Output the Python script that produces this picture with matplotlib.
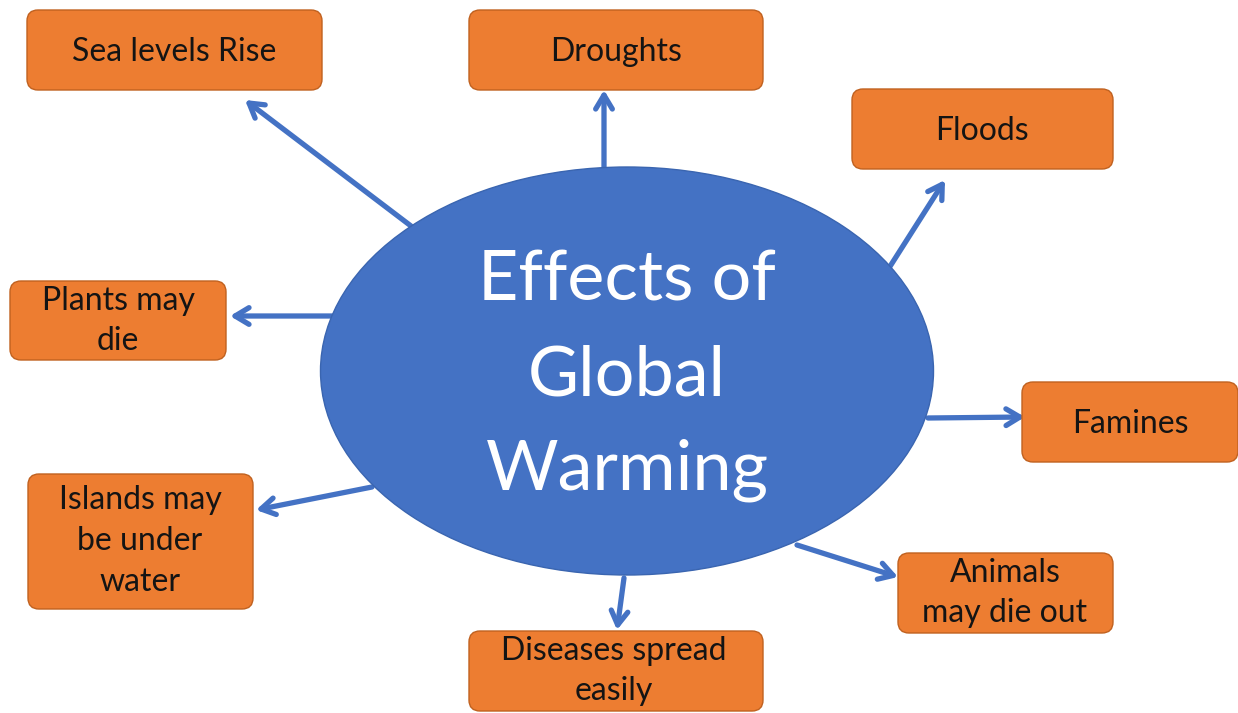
import matplotlib.pyplot as plt
from matplotlib.patches import Ellipse, FancyBboxPatch

# %%
# diagram content
center_text = "Effects of\nGlobal\nWarming"
effects = [
    "Sea levels Rise",
    "Droughts",
    "Floods",
    "Plants may\ndie",
    "Famines",
    "Islands may\nbe under\nwater",
    "Animals\nmay die out",
    "Diseases spread\neasily",
]

# layout in pixel units (x0, y0, x1, y1), y grows downwards
boxes = [
    (27, 10, 322, 90),
    (469, 10, 763, 90),
    (852, 89, 1113, 169),
    (10, 281, 226, 360),
    (1022, 382, 1238, 462),
    (28, 474, 253, 609),
    (898, 553, 1113, 633),
    (469, 631, 763, 711),
]
text_pos = [
    (174, 52), (616, 52), (982, 131), (118, 321),
    (1130, 424), (140, 541), (1005, 593), (614, 671),
]
arrows = [  # (start, end)
    ((411, 226), (245, 100)),
    ((604, 168), (604, 90)),
    ((889, 268), (945, 180)),
    ((332, 316), (230, 316)),
    ((928, 418), (1025, 417)),
    ((372, 487), (256, 510)),
    ((797, 545), (898, 577)),
    ((624, 578), (617, 630)),
]

ORANGE = "#ED7D31"
EDGE = "#C0611F"
BLUE = "#4472C4"
plt.rcParams['font.family'] = ['Lato', 'DejaVu Sans']

fig = plt.figure(figsize=(12.38, 7.13), dpi=100)
ax = fig.add_axes([0, 0, 1, 1])
ax.set_xlim(0, 1238)
ax.set_ylim(713, 0)
ax.axis("off")

# central ellipse
ax.add_patch(Ellipse((627, 371), 613, 408, facecolor=BLUE, edgecolor="#3A65B0", lw=1, zorder=2))
ax.text(627, 376, center_text, ha="center", va="center", color="white",
        fontsize=50.5, linespacing=1.62, zorder=3)

for label, (x0, y0, x1, y1), (tx, ty) in zip(effects, boxes, text_pos):
    ax.add_patch(FancyBboxPatch((x0, y0), x1 - x0, y1 - y0,
                                boxstyle="round,pad=0,rounding_size=11",
                                facecolor=ORANGE, edgecolor=EDGE, lw=1, zorder=2))
    ax.text(tx, ty, label, ha="center", va="center", color="#141414",
            fontsize=23, linespacing=1.45, zorder=3)

for (sx, sy), (ex, ey) in arrows:
    ax.annotate("", xy=(ex, ey), xytext=(sx, sy),
                arrowprops=dict(arrowstyle="->,head_length=1.0,head_width=0.6",
                                color=BLUE, lw=3.8, shrinkA=0, shrinkB=0),
                zorder=1)

fig.savefig("out.png", dpi=100)
